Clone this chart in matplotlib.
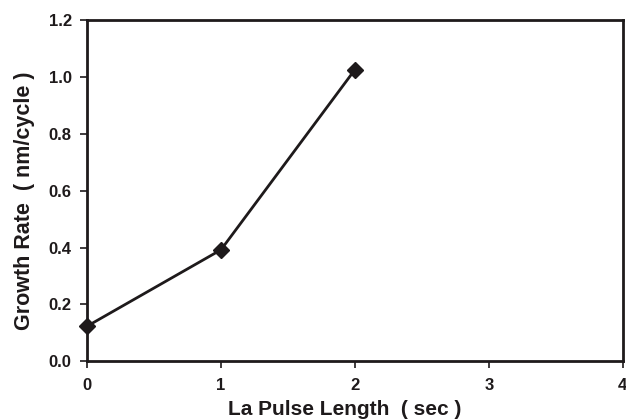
import matplotlib
matplotlib.use('Agg')
from matplotlib import pyplot as plt

# --- data ---
pulse_len = [0, 1, 2]
growth_rate = [0.123, 0.392, 1.026]
x_ticks = [0, 1, 2, 3, 4]
y_ticks = [0.0, 0.2, 0.4, 0.6, 0.8, 1.0, 1.2]

plt.rcParams['font.family'] = ['Liberation Sans', 'DejaVu Sans']
ink = '#1e1a1b'

fig = plt.figure(figsize=(6.26, 4.2), dpi=100)
ax = fig.add_axes([0.139, 0.140, 0.856, 0.812])
ax.plot(pulse_len, growth_rate, color=ink, linewidth=2.0,
        marker='D', markersize=8.5, markerfacecolor=ink, markeredgecolor=ink,
        clip_on=False, zorder=3)

ax.set_xlim(0, 4); ax.set_ylim(0, 1.2)
ax.set_xticks(x_ticks)
ax.set_yticks(y_ticks)
ax.set_xticklabels([str(t) for t in x_ticks])
ax.set_yticklabels([f'{t:.1f}' for t in y_ticks])
for s in ax.spines.values():
    s.set_linewidth(2.0); s.set_color(ink)
ax.tick_params(direction='out', length=5, width=1.2, color=ink,
               labelsize=12, labelcolor=ink)
ax.tick_params(axis='x', pad=7)
ax.tick_params(axis='y', pad=6)
for lbl in ax.get_xticklabels() + ax.get_yticklabels():
    lbl.set_fontweight('bold')
ax.set_xlabel('La Pulse Length  ( sec )', fontsize=15, fontweight='bold',
              color=ink, labelpad=5)
ax.set_ylabel('Growth Rate  ( nm/cycle )', fontsize=15.5, fontweight='bold',
              color=ink, labelpad=10)
ax.xaxis.label.set_x(0.481)   # label sits a little left of centre
ax.yaxis.label.set_y(0.47)    # and a little below centre

fig.savefig('out.png', dpi=100)
